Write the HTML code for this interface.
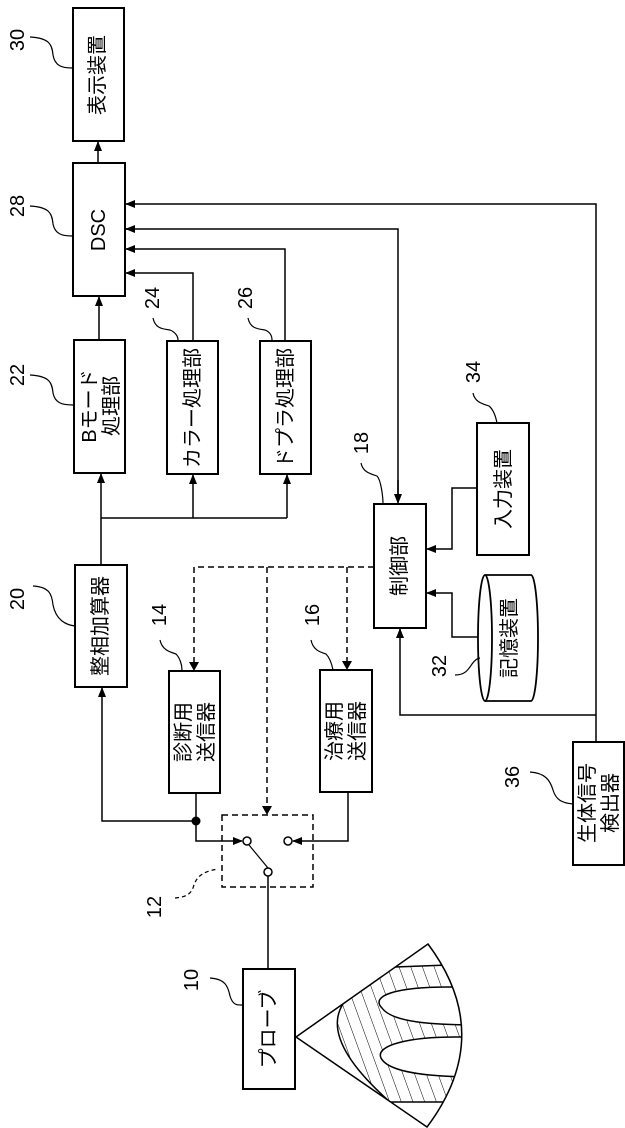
<!DOCTYPE html>
<html><head><meta charset="utf-8"><style>
html,body{margin:0;padding:0;background:#fff;}
svg{display:block;}
text{font-family:"Liberation Sans","Noto Sans CJK JP",sans-serif;fill:#000;}
</style></head><body>
<svg width="625" height="1128" viewBox="0 0 625 1128" xmlns="http://www.w3.org/2000/svg">
<defs>
<marker id="a" markerWidth="10" markerHeight="10" refX="9" refY="5" orient="auto" markerUnits="userSpaceOnUse">
<path d="M0,1 L10,5 L0,9 z" fill="#000"/></marker>
<pattern id="h" width="11" height="11" patternUnits="userSpaceOnUse" patternTransform="rotate(-20)">
<line x1="0" y1="0" x2="0" y2="11" stroke="#000" stroke-width="1"/></pattern>
<clipPath id="fan"><path d="M296,1037 L428,944 Q496,1035 427,1127 Z"/></clipPath>
</defs>
<g fill="none" stroke="#000" stroke-width="2">
<rect x="73" y="8" width="51" height="133"/>
<rect x="73" y="163" width="52" height="133"/>
<rect x="74" y="340" width="51" height="133"/>
<rect x="167" y="341" width="51" height="133"/>
<rect x="260" y="341" width="51" height="133"/>
<rect x="75" y="565" width="52" height="122"/>
<rect x="169" y="671" width="51" height="122"/>
<rect x="320" y="670" width="52" height="122"/>
<rect x="374" y="504" width="52" height="124"/>
<rect x="477" y="423" width="52" height="132"/>
<rect x="573" y="742" width="51" height="123"/>
<rect x="243" y="969" width="52" height="120"/>
</g>
<g fill="#fff" stroke="#000" stroke-width="1.8">
<path d="M485,575 L531,575 A7,63 0 0 1 531,701 L485,701"/>
<ellipse cx="485" cy="638" rx="7" ry="63"/>
</g>
<g fill="none" stroke="#000" stroke-width="1.5">
<line x1="98" y1="163" x2="98" y2="142" marker-end="url(#a)"/>
<line x1="99" y1="340" x2="99" y2="297" marker-end="url(#a)"/>
<polyline points="193,341 193,273 126,273" marker-end="url(#a)"/>
<polyline points="285,341 285,249 126,249" marker-end="url(#a)"/>
<polyline points="398,500 398,229 126,229"/>
<line x1="130" y1="229" x2="126" y2="229" marker-end="url(#a)"/>
<line x1="398" y1="480" x2="398" y2="503" marker-end="url(#a)"/>
<polyline points="596,742 596,204 126,204" marker-end="url(#a)"/>
<line x1="101" y1="565" x2="101" y2="474" marker-end="url(#a)"/>
<polyline points="101,518 287,518"/>
<line x1="193" y1="518" x2="193" y2="475" marker-end="url(#a)"/>
<line x1="287" y1="518" x2="287" y2="475" marker-end="url(#a)"/>
<polyline points="477,488 452,488 452,549 427,549" marker-end="url(#a)"/>
<polyline points="478,637 452,637 452,593 427,593" marker-end="url(#a)"/>
<polyline points="596,715 400,715 400,629" marker-end="url(#a)"/>
<polyline points="196,793 196,841 242,841" marker-end="url(#a)"/>
<polyline points="196,821 102,821 102,688" marker-end="url(#a)"/>
<polyline points="348,792 348,841 293,841" marker-end="url(#a)"/>
<line x1="268" y1="876" x2="268" y2="969"/>
<line x1="268" y1="868" x2="249" y2="845" stroke-width="1.2"/>
</g>
<circle cx="196" cy="821" r="4.5" fill="#000"/>
<g fill="#fff" stroke="#000" stroke-width="1.5">
<circle cx="247" cy="841" r="4"/><circle cx="288" cy="841" r="4"/><circle cx="268" cy="872" r="4"/>
</g>
<g fill="none" stroke="#000" stroke-width="1.5" stroke-dasharray="6,4">
<rect x="222" y="815" width="91" height="72"/>
<polyline points="374,567 194,567 194,664"/>
<line x1="267" y1="567" x2="267" y2="808"/>
<line x1="347" y1="567" x2="347" y2="663"/>
</g>
<g fill="#000">
<path d="M189,662 L199,662 L194,671 z"/>
<path d="M262,806 L272,806 L267,815 z"/>
<path d="M342,661 L352,661 L347,670 z"/>
</g>
<g clip-path="url(#fan)">
<path d="M343,1004 L395,967 L448,965 L480,964 L480,1102 L390,1102 Q320,1040 343,1004 Z" fill="url(#h)" stroke="none"/>
<path d="M395,967 L448,965 L480,964" fill="none" stroke="#000" stroke-width="1.5"/>
<path d="M343,1004 Q320,1040 390,1102 L480,1102" fill="none" stroke="#000" stroke-width="1.5"/>
<path d="M480,987 L448,987 C395,987 370,996 382,1008 C392,1022 430,1025 480,1025 Z" fill="#fff" stroke="#000" stroke-width="1.5"/>
<path d="M480,1037 L455,1037 C410,1037 375,1045 381,1058 C388,1072 425,1077 480,1077 Z" fill="#fff" stroke="#000" stroke-width="1.5"/>
</g>
<path d="M296,1037 L428,944 Q496,1035 427,1127 Z" fill="none" stroke="#000" stroke-width="1.5"/>
<g fill="none" stroke="#000" stroke-width="1.2">
<path d="M30,37 C50,38 52,45 53,55 C55,66 62,68 72,68"/>
<path d="M30,206 C50,207 52,214 53,224 C55,234 62,236 72,236"/>
<path d="M30,375 C50,376 52,383 53,393 C55,403 62,405 73,405"/>
<path d="M153,318 C155,328 162,329 170,330 C175,332 178,336 178,340"/>
<path d="M248,318 C250,328 257,329 265,330 C270,332 272,336 272,340"/>
<path d="M33,586 C50,587 52,595 53,605 C56,620 66,625 75,626"/>
<path d="M160,640 C162,650 170,652 176,654 C180,658 182,665 182,670"/>
<path d="M311,640 C313,650 320,652 326,654 C330,658 332,665 333,670"/>
<path d="M361,463 C363,473 372,474 377,476 C381,480 383,497 383,504"/>
<path d="M473,393 C475,403 484,404 489,406 C494,410 496,418 497,423"/>
<path d="M455,675 C465,675 468,670 472,664 C475,660 478,658 480,658"/>
<path d="M530,772 C545,773 550,780 553,790 C556,800 562,803 573,804"/>
<path d="M210,978 C225,979 228,986 230,996 C233,1006 238,1005 243,1005"/>
<path d="M175,898 C185,897 190,895 193,888 C196,878 200,872 218,869" stroke-dasharray="4,3"/>
</g>
<g font-size="20">
<text transform="translate(98,75) rotate(-90)" text-anchor="middle" dominant-baseline="central">表示装置</text>
<text transform="translate(99,230) rotate(-90)" text-anchor="middle" dominant-baseline="central">DSC</text>
<text transform="translate(90,406) rotate(-90)" text-anchor="middle" dominant-baseline="central">Bモード</text>
<text transform="translate(112,406) rotate(-90)" text-anchor="middle" dominant-baseline="central">処理部</text>
<text transform="translate(193,408) rotate(-90)" text-anchor="middle" dominant-baseline="central">カラー処理部</text>
<text transform="translate(286,408) rotate(-90)" text-anchor="middle" dominant-baseline="central">ドプラ処理部</text>
<text transform="translate(101,626) rotate(-90)" text-anchor="middle" dominant-baseline="central">整相加算器</text>
<text transform="translate(184,732) rotate(-90)" text-anchor="middle" dominant-baseline="central">診断用</text>
<text transform="translate(207,732) rotate(-90)" text-anchor="middle" dominant-baseline="central">送信器</text>
<text transform="translate(335,731) rotate(-90)" text-anchor="middle" dominant-baseline="central">治療用</text>
<text transform="translate(358,731) rotate(-90)" text-anchor="middle" dominant-baseline="central">送信器</text>
<text transform="translate(400,566) rotate(-90)" text-anchor="middle" dominant-baseline="central">制御部</text>
<text transform="translate(504,489) rotate(-90)" text-anchor="middle" dominant-baseline="central">入力装置</text>
<text transform="translate(510,638) rotate(-90)" text-anchor="middle" dominant-baseline="central">記憶装置</text>
<text transform="translate(588,803) rotate(-90)" text-anchor="middle" dominant-baseline="central">生体信号</text>
<text transform="translate(611,803) rotate(-90)" text-anchor="middle" dominant-baseline="central">検出器</text>
<text transform="translate(269,1029) rotate(-90)" text-anchor="middle" dominant-baseline="central">プローブ</text>
</g>
<g font-size="20">
<text transform="translate(18,40) rotate(-90)" text-anchor="middle" dominant-baseline="central">30</text>
<text transform="translate(18,206) rotate(-90)" text-anchor="middle" dominant-baseline="central">28</text>
<text transform="translate(18,375) rotate(-90)" text-anchor="middle" dominant-baseline="central">22</text>
<text transform="translate(153,298) rotate(-90)" text-anchor="middle" dominant-baseline="central">24</text>
<text transform="translate(246,298) rotate(-90)" text-anchor="middle" dominant-baseline="central">26</text>
<text transform="translate(18,599) rotate(-90)" text-anchor="middle" dominant-baseline="central">20</text>
<text transform="translate(160,615) rotate(-90)" text-anchor="middle" dominant-baseline="central">14</text>
<text transform="translate(313,615) rotate(-90)" text-anchor="middle" dominant-baseline="central">16</text>
<text transform="translate(362,443) rotate(-90)" text-anchor="middle" dominant-baseline="central">18</text>
<text transform="translate(474,372) rotate(-90)" text-anchor="middle" dominant-baseline="central">34</text>
<text transform="translate(440,666) rotate(-90)" text-anchor="middle" dominant-baseline="central">32</text>
<text transform="translate(513,777) rotate(-90)" text-anchor="middle" dominant-baseline="central">36</text>
<text transform="translate(155,907) rotate(-90)" text-anchor="middle" dominant-baseline="central">12</text>
<text transform="translate(192,980) rotate(-90)" text-anchor="middle" dominant-baseline="central">10</text>
</g>
</svg>
</body></html>
